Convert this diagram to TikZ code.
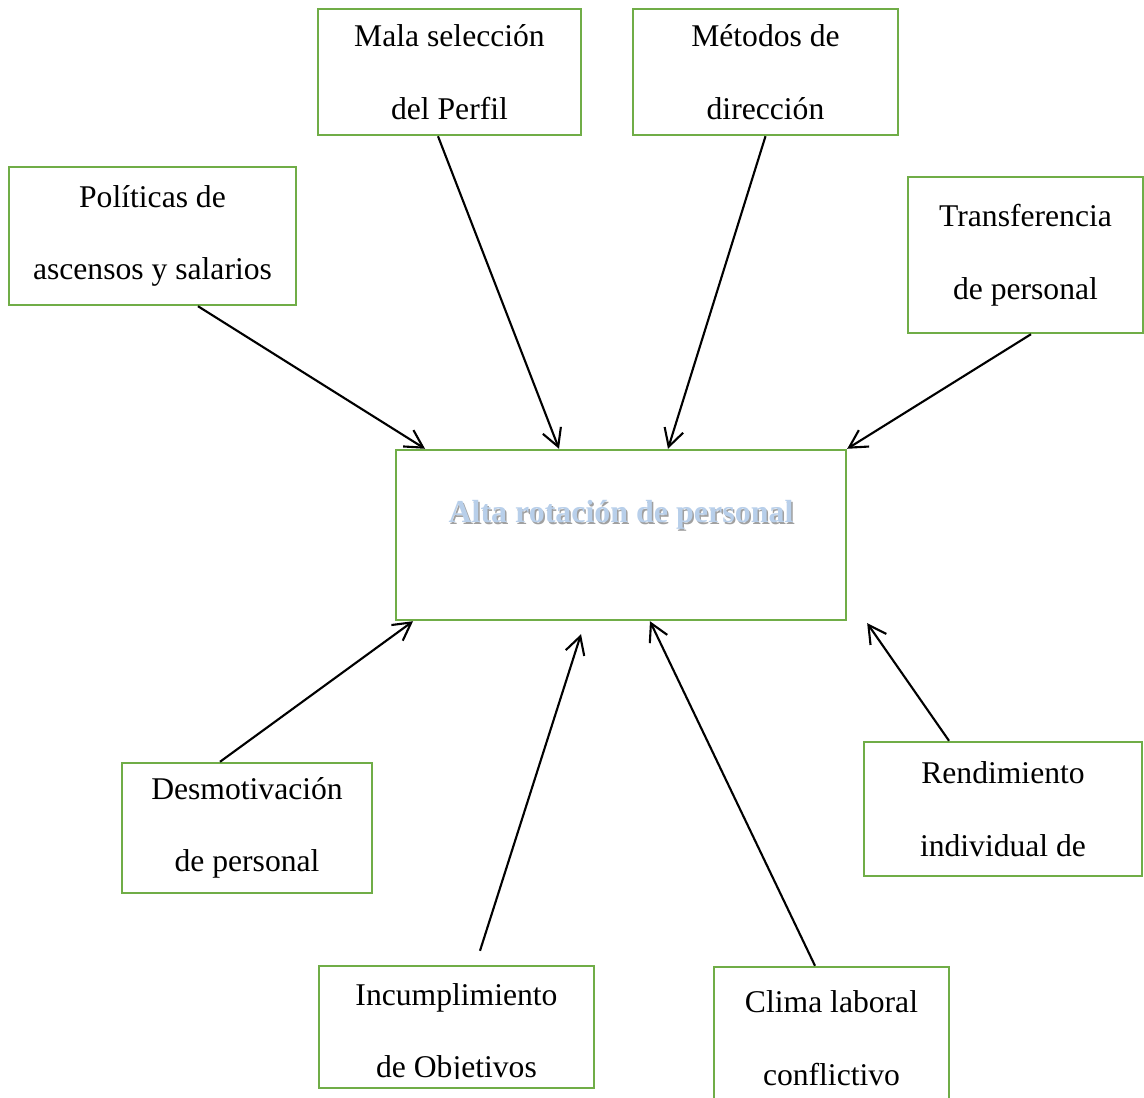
\documentclass[tikz,border=0pt]{standalone}
\usepackage{fontspec}
\setmainfont{Liberation Serif}
\usetikzlibrary{arrows.meta}
\definecolor{verde}{RGB}{112,173,71}
\definecolor{azultitulo}{RGB}{184,207,234}
\definecolor{sombra}{RGB}{160,160,160}
\begin{document}
\begin{tikzpicture}[x=0.02cm,y=-0.02cm,
    caja/.style={draw=verde,line width=1.4pt,align=center,inner sep=0pt,
      font=\fontsize{18}{41.4}\selectfont},
    letras/.style={align=center,inner sep=0pt,font=\fontsize{18}{41.4}\selectfont},
    titulo/.style={inner sep=0pt,font=\fontsize{18.2}{22}\selectfont\bfseries},
    flecha/.style={-{Straight Barb[length=10pt,width=11pt]},line width=1.2pt}]
   \useasboundingbox (0,0) rectangle (1144,1098);
   \node[caja,minimum width=5.26cm,minimum height=2.52cm] (mala) at (449.5,72) {Mala selección\\del Perfil};
   \node[caja,minimum width=5.30cm,minimum height=2.52cm] (metodos) at (765.5,72) {Métodos de\\dirección};
   \node[caja,minimum width=5.74cm,minimum height=2.76cm] (politicas) at (152.5,236) {Políticas de\\ascensos y salarios};
   \node[caja,minimum width=4.70cm,minimum height=3.12cm] (transferencia) at (1025.5,255) {Transferencia\\de personal};
   \node[caja,minimum width=9.00cm,minimum height=3.40cm] (central) at (621,535) {};
   \node[titulo,text=sombra] (sombratitulo) at (622.5,517) {Alta rotación de personal};
   \node[titulo,text=azultitulo] (titulotexto) at (621,515) {Alta rotación de personal};
   \node[caja,minimum width=5.00cm,minimum height=2.60cm] (desmotivacion) at (247,828) {Desmotivación\\de personal};
   \node[caja,minimum width=5.56cm,minimum height=2.68cm] (rendimiento) at (1003,809) {Rendimiento\\individual de};
   \node[caja,minimum width=5.50cm,minimum height=2.44cm] (incumplimiento) at (456.5,1027) {};
   \begin{scope}
      \clip (incumplimiento.north west) rectangle ([yshift=0.22cm]incumplimiento.south east);
      \node[letras] (incumplimientotexto) at (456.5,1034) {Incumplimiento\\de Objetivos};
   \end{scope}
   \node[caja,minimum width=4.70cm,minimum height=2.86cm] (clima) at (831.5,1038.5) {Clima laboral\\conflictivo};
   \draw[flecha] ([xshift=0.91cm]politicas.south) -- ([xshift=-3.92cm]central.north);
   \draw[flecha] ([xshift=-0.23cm]mala.south) -- ([xshift=-1.24cm]central.north);
   \draw[flecha] (metodos.south) -- ([xshift=0.94cm]central.north);
   \draw[flecha] ([xshift=0.11cm]transferencia.south) -- (central.north east);
   \draw[flecha] ([xshift=-0.54cm]desmotivacion.north) -- ([xshift=-4.16cm]central.south);
   \draw[flecha] ([xshift=0.47cm,yshift=0.28cm]incumplimiento.north) -- ([xshift=-0.8cm,yshift=-0.26cm]central.south);
   \draw[flecha] ([xshift=-0.33cm]clima.north) -- ([xshift=0.58cm]central.south);
   \draw[flecha] ([xshift=-1.08cm]rendimiento.north) -- ([xshift=0.4cm,yshift=-0.04cm]central.south east);
\end{tikzpicture}
\end{document}
